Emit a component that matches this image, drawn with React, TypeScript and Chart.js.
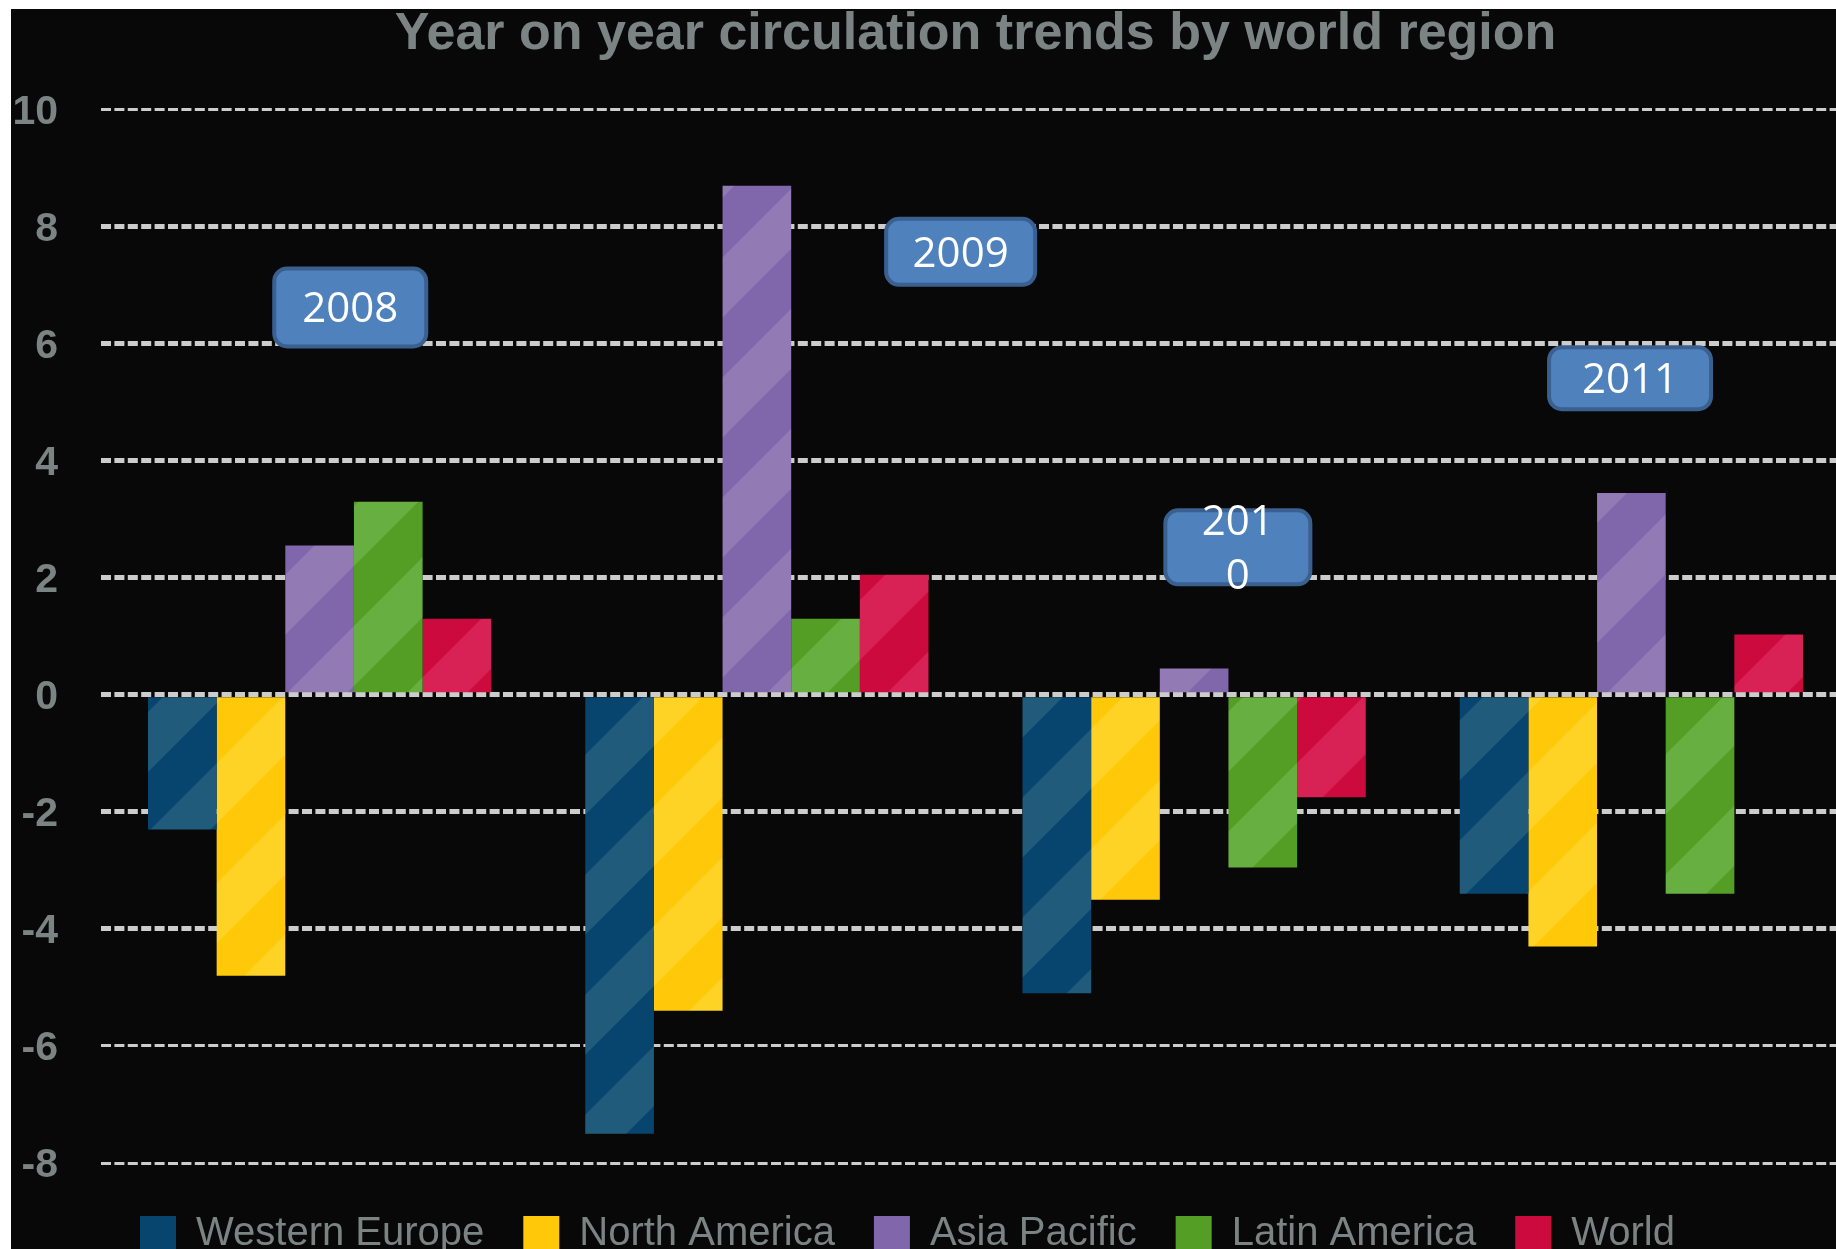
import React, { useEffect, useRef } from "react";
import { Chart, registerables } from "chart.js";

Chart.register(...registerables);

// ---- data ----
const years = ["2008", "2009", "2010", "2011"];
const seriesNames = ["Western Europe", "North America", "Asia Pacific", "Latin America", "World"];
const westernEurope = [-2.3, -7.5, -5.1, -3.4];
const northAmerica = [-4.8, -5.4, -3.5, -4.3];
const asiaPacific = [2.55, 8.7, 0.45, 3.45];
const latinAmerica = [3.3, 1.3, -2.95, -3.4];
const world = [1.3, 2.05, -1.75, 1.03];
const yTickValues = [10, 8, 6, 4, 2, 0, -2, -4, -6, -8];
const yearBoxText = [["2008"], ["2009"], ["201", "0"], ["2011"]];

// ---- styling / layout ----
const palette = [
  { dark: "#07446e", light: "#215b7b" },
  { dark: "#ffc808", light: "#ffd226" },
  { dark: "#8066aa", light: "#927ab4" },
  { dark: "#559e26", light: "#67af40" },
  { dark: "#cc0a3e", light: "#d82155" },
];
const yearBoxLayout = [
  { cat: 0, dx: 0.07, y: 6.62, w: 156, h: 82 },
  { cat: 1, dx: 0.466, y: 7.57, w: 153, h: 70 },
  { cat: 2, dx: 0.1, y: 2.52, w: 149, h: 78 },
  { cat: 3, dx: -0.003, y: 5.41, w: 166, h: 66 },
];
const grey = "#7b8483";
const FONT = "'Liberation Sans', Arial, sans-serif";

function stripes(dark: string, light: string, size = 120) {
  const c = document.createElement("canvas");
  c.width = size;
  c.height = size;
  const g = c.getContext("2d")!;
  g.fillStyle = dark;
  g.fillRect(0, 0, size, size);
  g.fillStyle = light;
  const h = size / 2;
  g.beginPath();
  g.moveTo(0, 0);
  g.lineTo(h, 0);
  g.lineTo(0, h);
  g.closePath();
  g.fill();
  g.beginPath();
  g.moveTo(size, 0);
  g.lineTo(size, h);
  g.lineTo(h, size);
  g.lineTo(0, size);
  g.closePath();
  g.fill();
  return g.createPattern(c, "repeat")!;
}

const yearBoxPlugin = {
  id: "yearBoxes",
  afterDatasetsDraw(chart: any) {
    const { ctx } = chart;
    const x = chart.scales.x;
    const y = chart.scales.y;
    const catW = (x.right - x.left) / years.length;
    ctx.save();
    yearBoxLayout.forEach((b, i) => {
      const cx = x.getPixelForValue(b.cat) + b.dx * catW;
      const cy = y.getPixelForValue(b.y);
      const left = cx - b.w / 2;
      const top = cy - b.h / 2;
      ctx.beginPath();
      ctx.roundRect(left + 2, top + 2, b.w - 4, b.h - 4, 13);
      ctx.fillStyle = "#4f81bd";
      ctx.fill();
      ctx.lineWidth = 4;
      ctx.strokeStyle = "#3a6090";
      ctx.stroke();
      const lines = yearBoxText[i];
      ctx.fillStyle = "#ffffff";
      ctx.font = "42px 'Open Sans', 'Noto Sans', sans-serif";
      ctx.textAlign = "center";
      ctx.textBaseline = "alphabetic";
      const lh = 54;
      lines.forEach((t, k) => {
        const lc = cy + (k - (lines.length - 1) / 2) * lh;
        ctx.fillText(t, cx, lc + 15);
      });
    });
    ctx.restore();
  },
};

export default function App() {
  const ref = useRef<HTMLCanvasElement>(null);
  useEffect(() => {
    const canvas = ref.current!;
    const series = [westernEurope, northAmerica, asiaPacific, latinAmerica, world];
    const chart = new Chart(canvas, {
      type: "bar",
      data: {
        labels: years,
        datasets: series.map((d, i) => ({
          label: seriesNames[i],
          data: d,
          backgroundColor: stripes(palette[i].dark, palette[i].light),
          borderWidth: 0,
          barPercentage: 1,
          categoryPercentage: 0.785,
        })),
      },
      options: {
        responsive: false,
        animation: false,
        devicePixelRatio: 1,
        events: [],
        layout: { padding: 0 },
        scales: {
          x: {
            ticks: { display: false },
            grid: { display: false },
            border: { display: false },
            afterFit: (s: any) => {
              s.height = 12;
            },
          },
          y: {
            min: -8,
            max: 10,
            afterBuildTicks: (s: any) => {
              s.ticks = yTickValues.map((v) => ({ value: v }));
            },
            ticks: {
              padding: 43,
              labelOffset: 3,
              color: grey,
              font: { family: FONT, size: 41, weight: "bold" },
              callback: (v: any) => String(v),
            },
            grid: {
              color: "#cccccc",
              drawTicks: false,
              lineWidth: (c: any) =>
                c.tick && [10, -6, -8].includes(c.tick.value) ? 3 : 5,
            },
            border: { display: false, dash: [10, 3.4] },
            afterFit: (s: any) => {
              s.width = 90;
            },
          },
        },
        plugins: {
          tooltip: { enabled: false },
          title: {
            display: true,
            text: "Year on year circulation trends by world region",
            color: grey,
            fullSize: false,
            font: { family: FONT, size: 52, weight: "bold", lineHeight: 0.8 },
            padding: { top: 5, bottom: 54 },
          },
          legend: {
            display: true,
            position: "bottom",
            align: "start",
            fullSize: false,
            labels: {
              boxWidth: 36,
              boxHeight: 36,
              padding: 39,
              color: grey,
              font: { family: FONT, size: 40 },
              generateLabels: () =>
                seriesNames.map((n, i) => ({
                  text: n,
                  fillStyle: palette[i].dark,
                  strokeStyle: palette[i].dark,
                  lineWidth: 0,
                  hidden: false,
                  datasetIndex: i,
                  fontColor: grey,
                })),
            },
          },
        },
      } as any,
      plugins: [yearBoxPlugin],
    });
    return () => chart.destroy();
  }, []);

  return (
    <div
      style={{
        position: "fixed",
        left: 0,
        top: 0,
        width: 1836,
        height: 1249,
        overflow: "hidden",
        background: "#ffffff",
      }}
    >
      <canvas
        ref={ref}
        width={1839}
        height={1255}
        style={{
          position: "absolute",
          left: 11,
          top: 9,
          width: 1839,
          height: 1255,
          background: "#080808",
          display: "block",
        }}
      />
    </div>
  );
}
